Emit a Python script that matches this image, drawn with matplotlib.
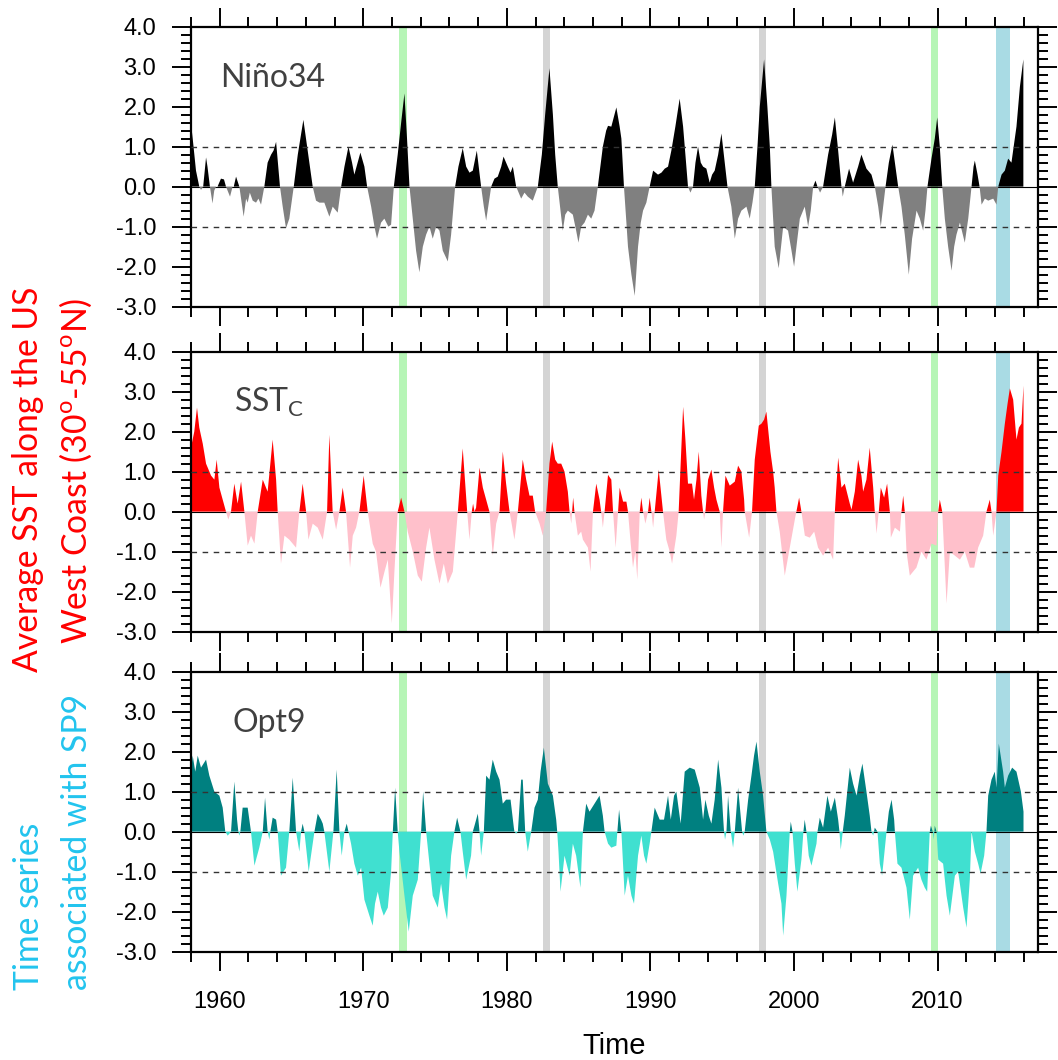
import numpy as np
import matplotlib.pyplot as plt
from matplotlib.ticker import MultipleLocator, FormatStrFormatter

plt.rcParams['axes.unicode_minus'] = False

# Nino34 index (time in years, value)
nino_t = [1958.0, 1958.15, 1958.35, 1958.58, 1958.7, 1958.85, 1959.05, 1959.15, 1959.32, 1959.5, 1959.62, 1959.75,
          1959.85, 1960.09, 1960.3, 1960.44, 1960.72, 1960.9, 1960.98, 1961.14, 1961.37, 1961.67, 1961.84, 1961.95,
          1962.1, 1962.3, 1962.53, 1962.7, 1962.88, 1963.11, 1963.34, 1963.58, 1963.75, 1963.93, 1964.2, 1964.39,
          1964.62, 1964.85, 1965.16, 1965.44, 1965.83, 1966.13, 1966.48, 1966.71, 1966.95, 1967.29, 1967.64, 1967.87,
          1968.22, 1968.46, 1968.69, 1968.97, 1969.22, 1969.38, 1969.8, 1970.08, 1970.27, 1970.55, 1970.78, 1970.96,
          1971.24, 1971.47, 1971.75, 1971.94, 1972.13, 1972.4, 1972.64, 1972.87, 1973.05, 1973.22, 1973.45, 1973.68,
          1973.91, 1974.15, 1974.38, 1974.61, 1974.84, 1975.08, 1975.31, 1975.54, 1975.89, 1976.12, 1976.4, 1976.63,
          1976.93, 1977.17, 1977.4, 1977.63, 1977.91, 1978.21, 1978.4, 1978.56, 1978.79, 1978.91, 1979.14, 1979.37,
          1979.61, 1979.77, 1980.07, 1980.26, 1980.42, 1980.65, 1981.0, 1981.23, 1981.46, 1981.81, 1982.16, 1982.44,
          1982.67, 1982.97, 1983.21, 1983.37, 1983.55, 1983.74, 1983.9, 1984.07, 1984.25, 1984.6, 1984.83, 1984.99,
          1985.18, 1985.41, 1985.65, 1985.88, 1986.11, 1986.34, 1986.69, 1986.92, 1987.05, 1987.28, 1987.63, 1987.86,
          1987.98, 1988.16, 1988.33, 1988.44, 1988.68, 1988.91, 1989.14, 1989.33, 1989.49, 1989.72, 1989.95, 1990.19,
          1990.53, 1990.77, 1991.0, 1991.23, 1991.46, 1991.74, 1992.04, 1992.28, 1992.44, 1992.62, 1992.79, 1992.97,
          1993.14, 1993.32, 1993.51, 1993.67, 1993.9, 1994.13, 1994.3, 1994.48, 1994.72, 1994.95, 1995.18, 1995.37,
          1995.64, 1995.88, 1996.11, 1996.34, 1996.69, 1996.92, 1997.11, 1997.27, 1997.46, 1997.62, 1997.92, 1998.15,
          1998.32, 1998.43, 1998.55, 1998.66, 1998.94, 1999.25, 1999.59, 1999.83, 2000.01, 2000.24, 2000.41, 2000.75,
          2000.99, 2001.17, 2001.34, 2001.5, 2001.64, 2001.82, 2002.03, 2002.38, 2002.66, 2002.85, 2003.08, 2003.31,
          2003.4, 2003.54, 2003.84, 2004.12, 2004.47, 2004.7, 2005.05, 2005.4, 2005.63, 2005.87, 2006.05, 2006.28,
          2006.38, 2006.61, 2006.86, 2007.07, 2007.26, 2007.49, 2007.72, 2008.0, 2008.23, 2008.54, 2008.77, 2009.0,
          2009.16, 2009.3, 2009.58, 2009.81, 2009.98, 2010.16, 2010.33, 2010.51, 2010.74, 2010.98, 2011.16, 2011.32,
          2011.56, 2011.9, 2012.14, 2012.37, 2012.51, 2012.6, 2012.79, 2012.93, 2013.07, 2013.3, 2013.53, 2013.88,
          2014.11, 2014.23, 2014.46, 2014.69, 2014.92, 2015.15, 2015.5, 2015.74, 2015.98]
nino_v = [1.6, 1.1, 0.4, 0.0, -0.08, 0.0, 0.73, 0.5, 0.0, -0.42, -0.1, 0.0,
          0.0, 0.2, 0.18, 0.0, -0.25, 0.0, 0.0, 0.25, 0.0, -0.75, -0.3, -0.4,
          -0.15, -0.35, -0.4, -0.3, -0.45, 0.0, 0.6, 0.8, 0.9, 1.12, 0.0, -0.5,
          -1.04, -0.8, 0.0, 0.8, 1.67, 0.9, 0.0, -0.35, -0.4, -0.4, -0.75, -0.5,
          -0.65, 0.0, 0.5, 1.0, 0.6, 0.3, 0.85, 0.5, 0.0, -0.5, -1.0, -1.3,
          -0.9, -0.8, -1.0, -0.95, 0.0, 0.8, 1.6, 2.33, 1.2, 0.0, -0.8, -1.6,
          -2.14, -1.5, -1.2, -1.0, -1.3, -1.0, -1.1, -1.6, -1.87, -1.2, 0.0, 0.5,
          0.96, 0.5, 0.35, 0.4, 0.9, 0.0, -0.5, -0.85, -0.3, 0.0, 0.2, 0.25,
          0.5, 0.75, 0.5, 0.35, 0.5, 0.0, -0.3, -0.15, -0.25, -0.35, 0.0, 0.8,
          1.8, 2.96, 1.8, 0.8, 0.0, -0.6, -1.1, -0.7, -0.6, -0.7, -1.1, -1.4,
          -1.0, -0.9, -0.7, -0.8, -0.6, 0.0, 1.0, 1.4, 1.52, 1.5, 1.98, 1.5,
          1.2, 0.0, -0.9, -1.5, -2.2, -2.73, -1.5, -0.9, -0.6, -0.4, 0.0, 0.4,
          0.3, 0.35, 0.45, 0.5, 0.9, 1.5, 2.2, 1.5, 0.8, 0.0, -0.15, 0.0,
          0.6, 1.0, 0.6, 0.5, 0.45, 0.1, 0.3, 0.4, 0.8, 1.33, 0.6, 0.0,
          -0.5, -1.3, -0.8, -0.6, -0.5, -0.8, -0.4, 0.0, 1.0, 2.0, 3.18, 2.0,
          1.0, 0.0, -0.8, -1.5, -2.04, -1.0, -1.1, -1.6, -2.0, -1.3, -0.8, -0.5,
          -1.0, -0.6, 0.0, 0.15, 0.0, -0.15, 0.0, 0.8, 1.3, 1.73, 0.9, 0.0,
          -0.25, 0.0, 0.45, 0.1, 0.5, 0.8, 0.45, 0.3, 0.0, -0.5, -1.0, -0.3,
          0.0, 0.6, 1.05, 0.5, 0.0, -0.5, -1.2, -2.2, -1.3, -0.6, -0.8, -1.1,
          -0.6, 0.0, 0.7, 1.2, 1.73, 1.0, 0.0, -0.8, -1.5, -2.1, -1.5, -1.2,
          -0.9, -1.4, -0.8, 0.0, 0.5, 0.65, 0.3, 0.0, -0.45, -0.3, -0.35, -0.3,
          -0.45, 0.0, 0.3, 0.4, 0.7, 0.6, 1.5, 2.5, 3.18]

# SST along the US West Coast
sst_t = [1958.0, 1958.23, 1958.42, 1958.58, 1958.82, 1959.05, 1959.4, 1959.63, 1959.79, 1959.98, 1960.21, 1960.44,
         1960.6, 1960.79, 1961.02, 1961.25, 1961.49, 1961.72, 1961.95, 1962.18, 1962.42, 1962.65, 1963.0, 1963.34,
         1963.69, 1963.93, 1964.04, 1964.27, 1964.51, 1964.85, 1965.32, 1965.55, 1965.78, 1966.02, 1966.18, 1966.48,
         1966.83, 1967.18, 1967.48, 1967.64, 1967.87, 1968.11, 1968.34, 1968.57, 1968.8, 1969.08, 1969.27, 1969.5,
         1969.73, 1970.03, 1970.31, 1970.66, 1970.89, 1971.2, 1971.48, 1971.71, 1971.99, 1972.17, 1972.4, 1972.64,
         1972.87, 1973.1, 1973.45, 1973.8, 1974.08, 1974.38, 1974.61, 1974.96, 1975.31, 1975.61, 1975.89, 1976.24,
         1976.59, 1976.93, 1977.24, 1977.4, 1977.56, 1977.65, 1977.75, 1977.86, 1978.1, 1978.33, 1978.56, 1978.79,
         1979.02, 1979.26, 1979.49, 1979.72, 1979.95, 1980.19, 1980.53, 1980.77, 1981.11, 1981.35, 1981.58, 1981.81,
         1981.97, 1982.28, 1982.51, 1982.74, 1982.97, 1983.16, 1983.37, 1983.55, 1983.79, 1984.02, 1984.25, 1984.37,
         1984.49, 1984.55, 1984.62, 1984.71, 1984.95, 1985.18, 1985.3, 1985.65, 1985.83, 1986.0, 1986.23, 1986.46,
         1986.57, 1986.69, 1986.81, 1987.05, 1987.28, 1987.4, 1987.58, 1987.75, 1987.86, 1988.1, 1988.33, 1988.44,
         1988.63, 1988.79, 1988.95, 1989.09, 1989.26, 1989.37, 1989.49, 1989.65, 1989.84, 1989.95, 1990.07, 1990.19,
         1990.3, 1990.58, 1990.88, 1991.11, 1991.35, 1991.51, 1991.81, 1991.97, 1992.11, 1992.28, 1992.44, 1992.62,
         1992.9, 1993.04, 1993.21, 1993.37, 1993.55, 1993.67, 1993.74, 1993.83, 1994.02, 1994.25, 1994.44, 1994.6,
         1994.83, 1994.95, 1995.06, 1995.23, 1995.53, 1995.88, 1996.11, 1996.34, 1996.53, 1996.57, 1996.88, 1997.08,
         1997.27, 1997.55, 1997.74, 1997.92, 1998.08, 1998.36, 1998.55, 1998.66, 1998.78, 1999.01, 1999.36, 1999.71,
         2000.06, 2000.17, 2000.36, 2000.52, 2000.76, 2001.1, 2001.41, 2001.68, 2002.03, 2002.38, 2002.73, 2002.85,
         2003.08, 2003.31, 2003.54, 2003.89, 2004.01, 2004.24, 2004.47, 2004.7, 2004.82, 2005.05, 2005.28, 2005.52,
         2005.63, 2005.75, 2005.91, 2006.05, 2006.28, 2006.49, 2006.68, 2006.75, 2007.03, 2007.38, 2007.49, 2007.61,
         2007.72, 2007.84, 2008.07, 2008.53, 2008.88, 2009.23, 2009.58, 2009.93, 2010.05, 2010.16, 2010.33, 2010.46,
         2010.63, 2010.86, 2011.21, 2011.56, 2011.9, 2012.25, 2012.56, 2012.83, 2013.18, 2013.41, 2013.64, 2013.76,
         2013.88, 2014.11, 2014.23, 2014.46, 2014.69, 2014.88, 2015.04, 2015.27, 2015.5, 2015.67, 2015.85, 2015.99]
sst_v = [1.6, 2.0, 2.6, 2.1, 1.7, 1.2, 0.9, 0.8, 1.3, 0.6, 0.3, 0.0,
         -0.2, 0.0, 0.7, 0.2, 0.75, 0.0, -0.85, -0.6, -0.8, 0.0, 0.8, 0.5,
         1.8, 0.8, 0.0, -1.3, -0.6, -0.7, -0.9, 0.0, 0.7, 0.0, -0.7, -0.3,
         -0.4, -0.7, 0.0, 1.92, 0.0, -0.45, 0.0, 0.6, 0.0, -1.4, -0.6, -0.4,
         0.0, 0.9, 0.0, -0.8, -1.0, -1.9, -1.5, -1.2, -2.79, -1.5, 0.0, 0.35,
         0.0, -0.5, -1.0, -1.6, -1.75, -0.9, -0.4, -1.2, -1.8, -1.3, -1.8, -1.5,
         0.0, 1.58, 0.0, -0.7, 0.0, 0.2, 0.0, 0.1, 1.1, 0.6, 0.3, 0.0,
         -1.1, -0.3, 0.0, 1.5, 0.7, 0.0, -0.7, 0.0, 1.3, 0.8, 0.4, 0.4,
         0.0, -0.3, -0.6, 0.0, 1.2, 1.75, 1.3, 1.2, 1.2, 1.0, 0.5, 0.0,
         -0.3, 0.0, 0.35, 0.0, -0.6, -0.5, -0.7, -0.9, -1.5, 0.0, 0.7, 0.3,
         0.0, -0.4, 0.0, 0.92, 0.8, 0.0, -0.9, 0.0, 0.6, 0.25, 0.25, 0.0,
         -0.8, -1.4, -1.0, -1.7, 0.0, 0.35, 0.0, -0.3, 0.0, 0.35, 0.0, -0.4,
         0.0, 1.05, 0.0, -0.7, -1.0, -1.3, -0.6, 0.0, 1.2, 2.62, 1.8, 0.7,
         0.7, 0.3, 0.8, 1.5, 0.4, 0.0, -0.2, 0.0, 0.8, 1.05, 0.6, 0.3,
         0.0, -0.9, 0.0, 0.9, 0.65, 0.75, 1.15, 1.0, 0.3, 0.0, -0.65, 0.0,
         1.3, 2.15, 2.2, 2.3, 2.5, 1.5, 1.0, 0.6, 0.0, -0.5, -1.6, -0.9,
         -0.2, 0.0, 0.35, 0.0, -0.6, -0.65, -0.5, -0.9, -1.1, -0.9, -1.2, 0.0,
         1.35, 0.6, 0.7, 0.2, 0.05, 0.5, 1.3, 0.9, 0.5, 0.8, 1.6, 0.6,
         0.0, -0.55, 0.0, 0.6, 0.35, 0.7, 0.0, -0.65, -0.4, -0.5, 0.0, 0.4,
         0.0, -1.0, -1.6, -1.4, -1.0, -1.2, -0.8, -0.85, 0.0, 0.3, 0.0, -1.0,
         -2.3, -1.0, -1.1, -1.2, -1.0, -1.4, -1.4, -0.9, -0.6, 0.0, 0.3, 0.0,
         -0.6, 0.0, 0.9, 1.5, 2.2, 2.7, 3.08, 2.8, 1.8, 2.1, 2.2, 3.15]

# Opt9 time series associated with SP9
opt_t = [1958.0, 1958.12, 1958.3, 1958.47, 1958.7, 1959.05, 1959.28, 1959.63, 1959.98, 1960.21, 1960.39, 1960.56,
         1960.79, 1961.02, 1961.21, 1961.3, 1961.37, 1961.44, 1961.6, 1961.95, 1962.18, 1962.42, 1962.76, 1963.0,
         1963.16, 1963.34, 1963.46, 1963.53, 1963.69, 1963.93, 1964.04, 1964.27, 1964.62, 1964.85, 1965.09, 1965.32,
         1965.55, 1965.67, 1965.78, 1965.9, 1966.2, 1966.48, 1966.6, 1966.83, 1967.06, 1967.18, 1967.29, 1967.64,
         1967.92, 1968.15, 1968.34, 1968.5, 1968.69, 1968.85, 1968.97, 1969.15, 1969.38, 1969.62, 1969.85, 1970.08,
         1970.43, 1970.66, 1970.82, 1971.01, 1971.24, 1971.43, 1971.71, 1971.94, 1972.06, 1972.22, 1972.4, 1972.52,
         1972.87, 1973.17, 1973.45, 1973.8, 1974.03, 1974.17, 1974.38, 1974.61, 1974.84, 1975.19, 1975.42, 1975.66,
         1975.84, 1976.12, 1976.35, 1976.54, 1976.77, 1976.93, 1977.17, 1977.51, 1977.63, 1977.75, 1977.98, 1978.1,
         1978.21, 1978.4, 1978.56, 1978.79, 1979.02, 1979.26, 1979.49, 1979.72, 1979.95, 1980.26, 1980.49, 1980.53,
         1980.65, 1980.77, 1981.0, 1981.11, 1981.28, 1981.46, 1981.7, 1981.93, 1982.16, 1982.35, 1982.58, 1982.86,
         1983.21, 1983.44, 1983.51, 1983.6, 1983.74, 1984.02, 1984.37, 1984.6, 1984.83, 1985.13, 1985.3, 1985.53,
         1985.76, 1986.11, 1986.46, 1986.69, 1986.81, 1987.05, 1987.28, 1987.63, 1987.7, 1987.82, 1987.98, 1988.21,
         1988.44, 1988.68, 1988.86, 1989.14, 1989.37, 1989.56, 1989.72, 1989.95, 1990.07, 1990.3, 1990.65, 1990.95,
         1991.23, 1991.42, 1991.65, 1991.81, 1992.11, 1992.39, 1992.74, 1993.09, 1993.44, 1993.67, 1993.83, 1994.07,
         1994.25, 1994.48, 1994.72, 1994.95, 1995.06, 1995.13, 1995.2, 1995.3, 1995.41, 1995.6, 1995.76, 1995.88,
         1996.11, 1996.39, 1996.48, 1996.57, 1996.81, 1997.04, 1997.22, 1997.39, 1997.62, 1997.85, 1998.08, 1998.32,
         1998.55, 1998.9, 1999.13, 1999.25, 1999.48, 1999.71, 1999.78, 1999.9, 2000.06, 2000.24, 2000.52, 2000.66,
         2000.75, 2000.87, 2001.03, 2001.22, 2001.57, 2001.64, 2001.8, 2002.03, 2002.33, 2002.57, 2002.85, 2003.08,
         2003.17, 2003.26, 2003.4, 2003.54, 2003.89, 2004.12, 2004.36, 2004.59, 2004.77, 2005.05, 2005.28, 2005.4,
         2005.52, 2005.63, 2005.82, 2005.98, 2006.14, 2006.45, 2006.61, 2006.8, 2006.98, 2007.03, 2007.21, 2007.49,
         2007.84, 2008.07, 2008.3, 2008.65, 2008.88, 2009.11, 2009.28, 2009.46, 2009.54, 2009.67, 2009.74, 2009.81,
         2009.93, 2010.05, 2010.39, 2010.63, 2010.86, 2011.21, 2011.44, 2011.79, 2012.02, 2012.25, 2012.37, 2012.6,
         2012.83, 2013.0, 2013.25, 2013.41, 2013.53, 2013.76, 2013.99, 2014.11, 2014.27, 2014.57, 2014.69, 2014.92,
         2015.2, 2015.5, 2015.81, 2015.99]
opt_v = [1.5, 1.9, 1.5, 1.9, 1.6, 1.8, 1.4, 1.0, 0.9, 0.6, 0.0, -0.1,
         0.0, 1.25, 0.3, 0.0, -0.1, 0.0, 0.6, 0.6, 0.0, -0.85, -0.4, 0.0,
         0.85, 0.0, -0.2, 0.0, 0.35, 0.3, 0.0, -1.1, -0.9, 0.0, 1.35, 0.0,
         -0.5, 0.0, 0.2, 0.0, -1.0, -0.3, 0.0, 0.45, 0.3, 0.2, 0.0, -1.0,
         0.0, 1.55, 0.0, -0.6, 0.0, 0.2, 0.0, -0.3, -0.8, -1.1, -0.9, -1.7,
         -2.1, -2.35, -1.8, -1.5, -1.9, -2.1, -1.9, -1.0, 0.0, 1.1, 0.0, -0.5,
         -1.6, -2.5, -1.6, -1.2, 0.0, 1.0, 0.0, -0.8, -1.6, -1.9, -1.3, -1.9,
         -2.2, -0.6, 0.0, 0.35, 0.0, -0.5, -1.2, -0.6, 0.0, 0.15, 0.45, 0.0,
         -0.6, 0.0, 1.4, 1.3, 1.8, 1.5, 1.3, 0.7, 0.8, 0.8, 0.1, 0.0,
         -0.05, 0.0, 1.3, 1.3, 0.0, -0.5, 0.0, 0.6, 0.8, 1.5, 2.1, 1.2,
         0.9, 0.3, 0.0, -0.5, -1.5, -0.6, -1.1, -0.3, -0.6, -1.4, 0.0, 0.7,
         0.5, 0.7, 0.9, 0.4, 0.0, -0.3, -0.4, -0.35, 0.0, 0.55, 0.0, -1.6,
         -1.1, -1.6, -1.8, -0.6, -0.1, -0.6, -0.8, -0.3, 0.0, 0.6, 0.3, 0.3,
         0.9, 0.3, 0.9, 1.0, 0.2, 1.5, 1.6, 1.55, 1.1, 0.3, 0.8, 0.4,
         0.2, 0.8, 1.8, 1.1, 0.4, 0.0, -0.2, 0.0, 0.9, 0.0, -0.4, 0.0,
         1.1, 0.0, -0.1, 0.0, 0.8, 1.4, 1.9, 2.25, 1.5, 0.9, 0.0, -0.2,
         -0.5, -1.3, -1.8, -2.6, -1.6, 0.0, 0.25, 0.0, -0.8, -1.5, -0.7, 0.0,
         0.3, 0.0, -0.6, -0.85, -0.3, 0.0, 0.35, 0.1, 0.9, 0.5, 0.85, 0.3,
         0.0, -0.45, 0.0, 0.4, 1.6, 1.2, 0.9, 1.4, 1.7, 1.0, 0.4, 0.0,
         -0.1, 0.1, 0.0, -0.8, -1.1, 0.0, 0.5, 0.8, 0.3, 0.0, -0.8, -0.9,
         -1.4, -2.2, -1.1, -0.9, -1.2, -1.4, -1.5, 0.0, 0.15, 0.0, -0.2, 0.15,
         0.0, -0.7, -0.8, -1.6, -2.1, -1.1, -1.0, -1.9, -2.4, -1.2, 0.0, -0.5,
         -0.8, -1.05, -0.6, 0.0, 0.9, 1.3, 1.5, 1.1, 2.2, 1.5, 1.1, 1.4,
         1.6, 1.5, 1.0, 0.5]

# highlighted periods
band_start = [1972.52, 1982.52, 1997.55, 2009.54, 2014.05]
band_end = [1973.04, 1983.02, 1998.05, 2010.05, 2015.05]
band_color = ['#b6f5b6', '#d4d4d4', '#d4d4d4', '#b6f5b6', '#a9dbe4']

series = [
    (nino_t, nino_v, 'black', 'gray', 'Niño34', 1960.0),
    (sst_t, sst_v, 'red', '#ffc0cb', 'SST$_\\mathregular{C}$', 1961.0),
    (opt_t, opt_v, '#008080', '#40e0d0', 'Opt9', 1960.9),
]

fig = plt.figure(figsize=(10.58, 10.60), dpi=100)
bottoms = [0.7107, 0.4041, 0.1022]
axes = []

for i, (t, v, pos_col, neg_col, name, name_x) in enumerate(series):
    ax = fig.add_axes([0.1805, bottoms[i], 0.8006, 0.2642])
    axes.append(ax)
    t = np.array(t)
    v = np.array(v)

    for s, e, c in zip(band_start, band_end, band_color):
        ax.axvspan(s, e, color=c, lw=0, zorder=0.5)

    ax.axhline(0, color='black', lw=0.8, zorder=1)
    ax.fill_between(t, 0, v, where=v >= 0, interpolate=True, color=pos_col, lw=0, zorder=2)
    ax.fill_between(t, 0, v, where=v <= 0, interpolate=True, color=neg_col, lw=0, zorder=2)
    for yy in [1, -1]:
        ax.axhline(yy, color='#333333', lw=1.0, ls=(0, (4, 4)), zorder=3)

    ax.text(name_x, 2.5, name, fontsize=23, color='#404040', family='Lato', zorder=4)

    ax.set_xlim(1958, 2017)
    ax.set_ylim(-3, 4)
    ax.set_xticks(range(1960, 2011, 10))
    ax.xaxis.set_minor_locator(MultipleLocator(2))
    ax.yaxis.set_major_locator(MultipleLocator(1))
    ax.yaxis.set_minor_locator(MultipleLocator(0.2))
    ax.yaxis.set_major_formatter(FormatStrFormatter('%.1f'))
    ax.tick_params(which='both', direction='out', top=True, right=True, width=1.4)
    ax.tick_params(which='major', length=14, labelsize=17, pad=11)
    ax.tick_params(axis='x', which='major', pad=14)
    ax.tick_params(which='minor', length=7)
    for lab in ax.get_xticklabels() + ax.get_yticklabels():
        lab.set_family('Liberation Sans')
    for sp in ax.spines.values():
        sp.set_linewidth(1.6)
    if i < 2:
        ax.tick_params(labelbottom=False)

axes[2].set_xlabel('Time', fontsize=21, family='Liberation Sans', labelpad=14)

# left side descriptions
fig.text(0.026, 0.548, 'Average SST along the US', rotation=90, ha='center', va='center',
         fontsize=24.3, color='red', family='Lato')
fig.text(0.072, 0.556, 'West Coast (30$^\\mathregular{o}$-55$^\\mathregular{o}$N)', rotation=90,
         ha='center', va='center', fontsize=24.3, color='red', family='Lato')
fig.text(0.027, 0.066, 'Time series', rotation=90, ha='center', va='bottom',
         fontsize=24.3, color='#22c4ee', family='Lato')
fig.text(0.073, 0.066, 'associated with SP9', rotation=90, ha='center', va='bottom',
         fontsize=24.3, color='#22c4ee', family='Lato')

plt.savefig('out.png', dpi=100)
